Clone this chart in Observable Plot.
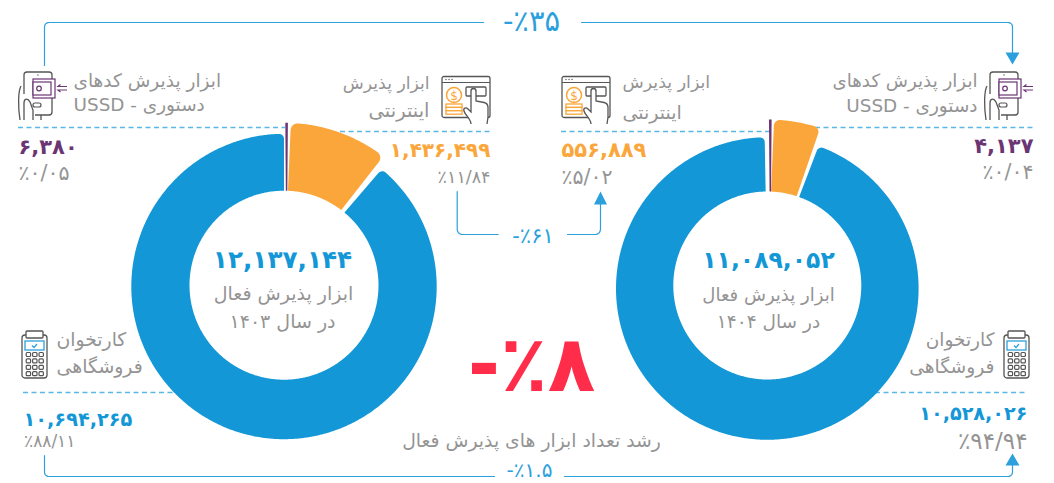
<!DOCTYPE html>
<html lang="fa">
<head>
<meta charset="utf-8">
<script src="https://cdn.jsdelivr.net/npm/d3@7"></script>
<script src="https://cdn.jsdelivr.net/npm/@observablehq/plot@0.6"></script>
<style>
html,body{margin:0;padding:0;background:#fff;}
svg{display:block;}
</style>
</head>
<body>
<div id="chart"></div>
<script>
// ---- data ----
const categories = ["کارتخوان فروشگاهی", "ابزار پذیرش اینترنتی", "ابزار پذیرش کدهای دستوری - USSD"];
const counts1403 = [10694265, 1436499, 6380];
const counts1404 = [10528026, 556889, 4137];
const shares1403 = [88.11, 11.84, 0.05];
const shares1404 = [94.94, 5.02, 0.04];
const totals = [12137144, 11089052];
const years = [1403, 1404];
const growth = {card: -1.5, web: -61, ussd: -35, total: -8};
// slice extents as drawn in the picture, in degrees clockwise from the top
const drawnOrange = [[2.4, 37.3], [2.3, 18.2]];
const drawnBlue = [[39.8, 360], [19.8, 359]];
const drawnPurple = [[-0.45, 0.45], [-0.45, 0.45]];

const C = {blue:"#1397d7", orange:"#fba63a", purple:"#6b3574", gray:"#949494", red:"#ff2d4a", line:"#2ba0dc", dash:"#5ab7e6", ink:"#555555"};
const FONT = '"DejaVu Sans", sans-serif';

const fa = s => String(s).replace(/\d/g, d => "۰۱۲۳۴۵۶۷۸۹"[d]);
const count = n => fa(d3.format(",")(n));
const pct = v => "٪" + fa(v.toFixed(2).replace(".", "/"));
const grow = v => "-٪" + fa(String(Math.abs(v)));

// ---- geometry helpers: slices become polygons in the x/y scales ----
function slice(id, color, ring, r0, r1, a0, a1, cr, dx = 0) {
  const rad = d => d * Math.PI / 180;
  const cx = ring.cx + dx;
  const cyAt = r => ring.cyIn + Math.min(1, Math.max(0, (r - ring.r) / (ring.R - ring.r))) * (ring.cyOut - ring.cyIn);
  const pts = [];
  const addLocal = (lx, ly) => pts.push({id, color, x: cx + lx, y: cyAt(Math.hypot(lx, ly)) - ly});
  const push = (r, a) => addLocal(r * Math.sin(a), r * Math.cos(a));
  const A0 = rad(a0), A1 = rad(a1);
  const N = Math.max(12, Math.round((a1 - a0) * 2));
  const da = cr > 0 ? cr / (r1 - cr) : 0;
  for (let i = 0; i <= N; i++) push(r0, A1 + (A0 - A1) * i / N);
  const corner = (ac, t0, t1) => {
    const rc = r1 - cr;
    for (let i = 0; i <= 8; i++) {
      const t = t0 + (t1 - t0) * i / 8;
      addLocal(rc * Math.sin(ac) + cr * (Math.cos(t) * Math.sin(ac) + Math.sin(t) * Math.cos(ac)),
               rc * Math.cos(ac) + cr * (Math.cos(t) * Math.cos(ac) - Math.sin(t) * Math.sin(ac)));
    }
  };
  if (cr > 0) corner(A0 + da, -Math.PI / 2, 0);
  const s = A0 + da, e = A1 - da;
  for (let i = 0; i <= N; i++) push(r1, s + (e - s) * i / N);
  if (cr > 0) corner(A1 - da, 0, Math.PI / 2);
  return pts;
}
const L = {cx: 283.5, cyIn: 284.7, cyOut: 286, R: 152.7, r: 94.5, Ro: 163.7};
const Rr = {cx: 766.8, cyIn: 285, cyOut: 288, R: 151.3, r: 94, Ro: 169};
const polys = [
  ...slice("b0", C.blue, L, L.r, L.R, ...drawnBlue[0], 5),
  ...slice("o0", C.orange, L, L.r, L.Ro, ...drawnOrange[0], 7),
  ...slice("p0", C.purple, L, L.r, L.Ro, ...drawnPurple[0], 0, 2.6),
  ...slice("b1", C.blue, Rr, Rr.r, Rr.R, ...drawnBlue[1], 5),
  ...slice("o1", C.orange, Rr, Rr.r, Rr.Ro, ...drawnOrange[1], 6),
  ...slice("p1", C.purple, Rr, Rr.r, Rr.Ro, ...drawnPurple[1], 0, 3)
];

function rounded(id, points, r) {
  const out = [{id, x: points[0][0], y: points[0][1]}];
  for (let i = 1; i < points.length - 1; i++) {
    const [x0,y0] = points[i-1], [x1,y1] = points[i], [x2,y2] = points[i+1];
    const d0 = Math.hypot(x1-x0,y1-y0), d1 = Math.hypot(x2-x1,y2-y1);
    const ax = x1+(x0-x1)*r/d0, ay = y1+(y0-y1)*r/d0, bx = x1+(x2-x1)*r/d1, by = y1+(y2-y1)*r/d1;
    for (let k = 0; k <= 6; k++) {
      const t = k/6, u = 1-t;
      out.push({id, x: u*u*ax+2*u*t*x1+t*t*bx, y: u*u*ay+2*u*t*y1+t*t*by});
    }
  }
  const last = points[points.length-1];
  out.push({id, x:last[0], y:last[1]});
  return out;
}
const connectors = [
  ...rounded("top-l", [[483,22],[44,22],[44,65]], 5),
  ...rounded("top-r", [[581,22],[1012,22],[1012,54]], 5),
  ...rounded("mid-l", [[456.7,191],[456.7,234],[497.7,234]], 6),
  ...rounded("mid-r", [[567,234],[600,234],[600,203]], 6),
  ...rounded("bot-l", [[44,455],[44,476],[494,476]], 5),
  ...rounded("bot-r", [[564,476],[1012,476],[1012,463]], 5)
];
const arrows = [
  {id:"a",x:1005,y:52},{id:"a",x:1019,y:52},{id:"a",x:1012,y:64},
  {id:"b",x:593.5,y:204},{id:"b",x:606.5,y:204},{id:"b",x:600,y:191},
  {id:"c",x:1005,y:465},{id:"c",x:1019,y:465},{id:"c",x:1012,y:453}
];
const dashes = [
  {x1:18,x2:285,y:127},{x1:340,x2:491,y:131},{x1:561,x2:770,y:131},{x1:815,x2:1033,y:127},
  {x1:23,x2:175,y:392},{x1:875,x2:1027,y:392}
];

// ---- text ----
const names = {
  ussd1: "ابزار پذیرش کدهای", ussd2: "USSD - دستوری",
  web1: "ابزار پذیرش", web2: "اینترنتی",
  card1: "کارتخوان", card2: "فروشگاهی",
  center: "ابزار پذیرش فعال", inYear: y => fa(y) + " در سال",
  foot: "رشد تعداد ابزار های پذیرش فعال"
};
const T = (text,x,y,size,fill,anchor,weight) => ({text,x,y,size,fill,anchor,weight});
const labels = [
  T(grow(growth.ussd),531,21,29,C.line,"middle",400),
  T(grow(growth.web),532.5,236,21,C.line,"middle",400),
  T(grow(growth.card),529,470,20,C.line,"middle",400),
  T(grow(growth.total),531,366,78,C.red,"middle",700),
  T(names.foot,531,440,18.8,C.gray,"middle",400),

  T(names.ussd1,73,81,18.5,C.gray,"start",400),
  T(names.ussd2,73,105,18.4,C.gray,"start",400),
  T(names.web1,429,83,17.2,C.gray,"end",400),
  T(names.web2,429,110,19.5,C.gray,"end",400),
  T(names.web1,622,82,17.4,C.gray,"start",400),
  T(names.web2,622,112,19,C.gray,"start",400),
  T(names.ussd1,977,81,18.2,C.gray,"end",400),
  T(names.ussd2,977,106,18.4,C.gray,"end",400),

  T(count(counts1403[2]),18,147,21,C.purple,"start",700),
  T(pct(shares1403[2]),18,173,20.5,C.gray,"start",400),
  T(count(counts1403[1]),490,150,20,C.orange,"end",700),
  T(pct(shares1403[1]),490,177,17.5,C.gray,"end",400),
  T(count(counts1404[1]),561,150,21,C.orange,"start",700),
  T(pct(shares1404[1]),561,177,20.5,C.gray,"start",400),
  T(count(counts1404[2]),1033,146,21,C.purple,"end",700),
  T(pct(shares1404[2]),1033,172,20.5,C.gray,"end",400),

  T(count(totals[0]),282,260,24.7,C.blue,"middle",700),
  T(names.center,283,293.5,19,C.gray,"middle",400),
  T(names.inYear(years[0]),282,321.5,19,C.gray,"middle",400),
  T(count(totals[1]),768,260,23.5,C.blue,"middle",700),
  T(names.center,768,295,18,C.gray,"middle",400),
  T(names.inYear(years[1]),768,322,18.5,C.gray,"middle",400),

  T(names.card1,56,339,18.8,C.gray,"start",400),
  T(names.card2,56,366,18.9,C.gray,"start",400),
  T(names.card1,994,340,18.5,C.gray,"end",400),
  T(names.card2,994,367,18.7,C.gray,"end",400),

  T(count(counts1403[0]),23,419,19.3,C.blue,"start",700),
  T(pct(shares1403[0]),23.5,441,17,C.gray,"start",400),
  T(count(counts1404[0]),1027,413,19.2,C.blue,"end",700),
  T(pct(shares1404[0]),1027,441,23,C.gray,"end",400)
];
const textMarks = d3.flatRollup(labels, v => v, d => d.anchor, d => d.weight).map(([anchor, weight, rows]) =>
  Plot.text(rows, {x:"x", y:"y", text:"text", fontSize:"size", fill:"fill", textAnchor:anchor, fontWeight:weight, fontFamily:FONT})
);

// ---- icons (decorations, not data) ----
const iconWeb = `
<rect x="1" y="1.5" width="48" height="41" rx="2" fill="#fff" stroke="${C.ink}" stroke-width="1.3"/>
<line x1="1" y1="7.5" x2="49" y2="7.5" stroke="${C.ink}" stroke-width="1.1"/>
<g fill="${C.ink}"><circle cx="5" cy="4.5" r=".7"/><circle cx="8" cy="4.5" r=".7"/><circle cx="11" cy="4.5" r=".7"/></g>
<circle cx="13" cy="20" r="7.5" fill="#fff" stroke="${C.orange}" stroke-width="1.5"/>
<text x="13" y="24.5" text-anchor="middle" font-size="12" font-family="DejaVu Sans" fill="${C.orange}">$</text>
<g fill="#fff" stroke="${C.orange}" stroke-width="1.3"><rect x="5" y="29" width="16" height="3.4"/><rect x="5" y="32.4" width="16" height="3.4"/><rect x="5" y="35.8" width="16" height="3.4"/></g>
<rect x="25" y="12" width="20" height="9" rx="1" fill="none" stroke="${C.ink}" stroke-width="1.3"/>
<path d="M30 49 C30 44 24 40 23 36 C22 33 25 32 27 34 L30 37 V16 a2.5 2.5 0 0 1 5 0 V26 l8 1.5 c3 .5 4 2 4 5 V42 L46 49" fill="#fff" stroke="${C.ink}" stroke-width="1.3"/>`;
const iconPhone = `
<path d="M7 23 V4 a3 3 0 0 1 3 -3 H32 a3 3 0 0 1 3 3 V41 a3 3 0 0 1 -3 3 H18" fill="#fff" stroke="${C.ink}" stroke-width="1.3"/>
<circle cx="21" cy="4" r=".7" fill="${C.ink}"/>
<rect x="16" y="8" width="22" height="19" fill="#fff" stroke="${C.purple}" stroke-width="1.2"/>
<rect x="16" y="11" width="18" height="13" fill="#fff" stroke="${C.purple}" stroke-width="1.2"/>
<circle cx="22" cy="17.5" r="2.3" fill="none" stroke="${C.purple}" stroke-width="1.2"/>
<path d="M50 15.5 H41 l2.5 -2 M50 19 H41 l2.5 2" fill="none" stroke="${C.purple}" stroke-width="1.2"/>
<rect x="16" y="32" width="8" height="4" rx="2" fill="none" stroke="${C.ink}" stroke-width="1.2"/>
<path d="M4 15 C1 20 1 36 3 49 M7 49 V32 C7 27 11 27 13 31 L16 39 V49 M24 44 V49" fill="none" stroke="${C.ink}" stroke-width="1.3"/>`;
const keys = d3.cross([0,1,2,3],[0,1,2]).map(([r,c]) => `<rect x="${5.2+c*6.4}" y="${22.5+r*6.4}" width="4.4" height="4" rx="1" fill="none" stroke="${C.ink}" stroke-width="1.2"/>`).join("");
const iconPos = `
<rect x="1" y="5" width="25" height="43" rx="3" fill="#fff" stroke="${C.ink}" stroke-width="1.3"/>
<rect x="5" y="1" width="17" height="7" rx="1" fill="#fff" stroke="${C.ink}" stroke-width="1.3"/>
<rect x="4" y="11" width="19" height="9" fill="#fff" stroke="${C.line}" stroke-width="1.3"/>
<path d="M11 15.5 l2 2 l3 -3.5" fill="none" stroke="${C.line}" stroke-width="1.2"/>${keys}`;
const icons = [[441,75,iconWeb],[561,75,iconWeb],[17,71,iconPhone],[983,71,iconPhone],[21,330,iconPos],[1003,330,iconPos]];
const iconMark = () => {
  const g = document.createElementNS("http://www.w3.org/2000/svg", "g");
  g.innerHTML = icons.map(([x,y,s]) => `<g transform="translate(${x},${y})">${s}</g>`).join("");
  return g;
};

const chart = Plot.plot({
  width: 1054, height: 483, margin: 0,
  x: {domain:[0,1054], range:[0,1054], axis:null},
  y: {domain:[0,483], range:[0,483], axis:null},
  style: {background:"#fff", fontFamily: FONT},
  marks: [
    Plot.ruleY(dashes, {x1:"x1", x2:"x2", y:"y", stroke:C.dash, strokeWidth:1.3, strokeDasharray:"5,3.5"}),
    Plot.line(polys, {x:"x", y:"y", z:"id", fill:"color", stroke:null}),
    Plot.line(connectors, {x:"x", y:"y", z:"id", stroke:C.line, strokeWidth:1.2}),
    Plot.line(arrows, {x:"x", y:"y", z:"id", fill:C.line, stroke:null}),
    iconMark,
    ...textMarks
  ]
});
document.getElementById("chart").append(chart);
</script>
</body>
</html>
